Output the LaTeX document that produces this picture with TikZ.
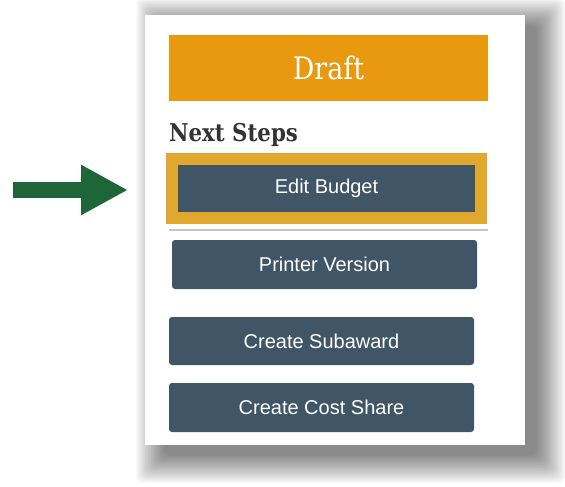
\documentclass[tikz,border=0pt]{standalone}
\usepackage{fontspec}
\setmainfont{Liberation Sans}
\newfontfamily\slab[FakeStretch=0.87]{DejaVu Serif}
\usetikzlibrary{arrows.meta}
\definecolor{draftorange}{HTML}{E8990F}
\definecolor{hlgold}{HTML}{E0A82E}
\definecolor{btnslate}{HTML}{405666}
\definecolor{arrowgreen}{HTML}{1E6638}
\definecolor{headtext}{HTML}{333333}
\tikzset{
  btn/.style={rectangle, fill=btnslate, text=white, font=\fontsize{20}{24}\selectfont,
    minimum width=305pt, minimum height=48pt, rounded corners=3pt, inner sep=0pt},
  bigarrow/.style={draw=arrowgreen, line width=16pt,
    -{Triangle[length=47pt,width=47pt]}, arrowgreen}
}
\begin{document}
\begin{tikzpicture}[x=1pt,y=-1pt]
\useasboundingbox (0,0) rectangle (565,487);
\fill[white] (0,0) rectangle (565,487);
% soft shadow
\foreach \i in {0,...,19}{
  \fill[black, opacity=0.026, rounded corners=6pt]
    ({166-30+1.5*\i},{28-30+1.5*\i}) rectangle ({535+30-1.5*\i},{455+28-1.5*\i});
}
% panel
\fill[white] (145,15) rectangle (525,445);
% Draft header
\node[rectangle, fill=draftorange, minimum width=319pt, minimum height=66pt, inner sep=0pt,
  text=white, font=\slab\fontsize{31}{36}\selectfont] (draft) at (328.5,68) {Draft};
% Next Steps
\node[anchor=base west, inner sep=0pt, text=headtext,
  font=\slab\bfseries\fontsize{24.5}{28}\selectfont] (next) at (169,141) {Next Steps};
% Edit Budget highlight
\node[rectangle, fill=hlgold, minimum width=321pt, minimum height=71pt, inner sep=0pt] (hl) at (326.5,188.5) {};
\node[btn, rounded corners=0pt, minimum width=297pt, minimum height=47pt] (edit) at (326.5,188.5) {Edit Budget};
% separator
\draw[gray!45, line width=1.2pt] (169,230) coordinate (sepL) -- (488,230) coordinate (sepR);
% buttons
\node[btn, minimum height=49pt] (printer) at (324.5,264.5) {Printer Version};
\node[btn] (subaward) at (321.5,341) {Create Subaward};
\node[btn, minimum height=49pt] (costshare) at (321.5,407.5) {Create Cost Share};
% arrow
\coordinate (atail) at (13,190);
\coordinate (atip) at (128,190);
\draw[bigarrow] (atail) -- (atip);
\end{tikzpicture}
\end{document}
